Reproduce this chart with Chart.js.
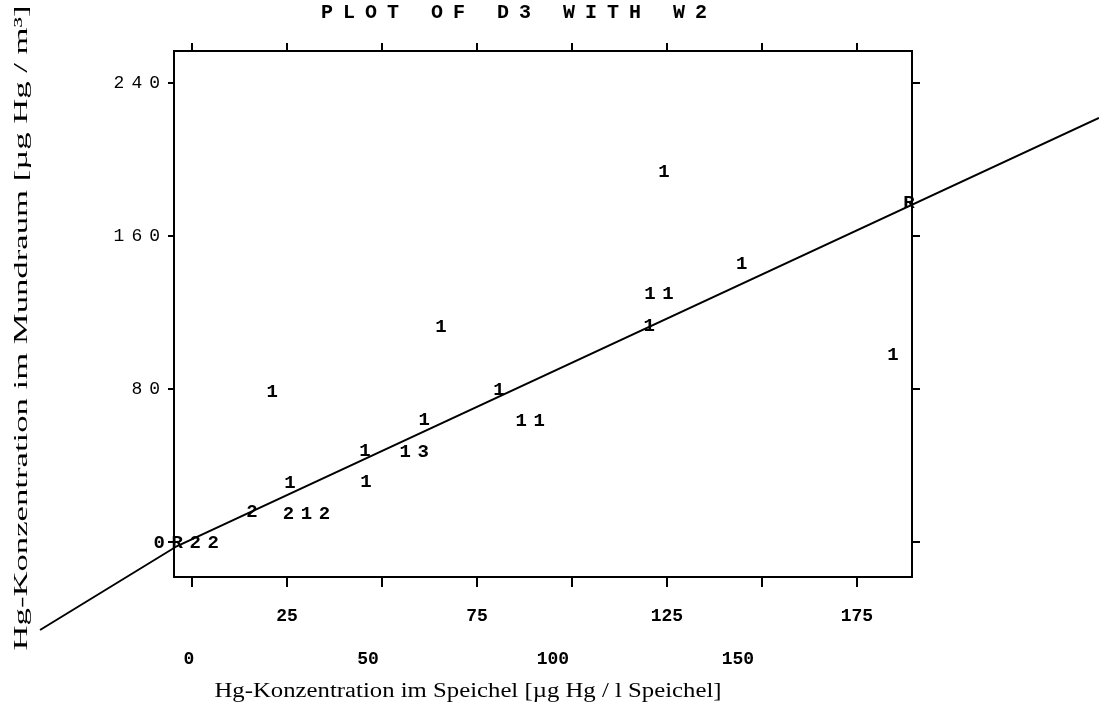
<!DOCTYPE html>
<html><head><meta charset="utf-8">
<script src="https://cdn.jsdelivr.net/npm/chart.js@4"></script>
<style>html,body{margin:0;padding:0;background:#fff}#wrap{width:1099px;height:706px}</style>
</head><body><div id="wrap"><canvas id="c" width="1099" height="706"></canvas></div>
<script>
const chartTitle = 'PLOT OF D3 WITH W2';
const xTitle = 'Hg-Konzentration im Speichel [µg Hg / l Speichel]';
const yTitle = 'Hg-Konzentration im Mundraum [µg Hg / m³]';
const xTickValues = [0, 25, 50, 75, 100, 125, 150, 175];
const yTickValues = [0, 80, 160, 240];
const yTickLabels = ['', '80', '160', '240'];

// plot symbols (SAS printer-plot counts) and their positions
const symbolText = ['1', '1', '11', '1', '1', 'R', '1', '1', '1', '11', '1', '13', '1', '1', '1', '2', '212', '0R22'];
const symbolX = [124.2, 144.7, 122.9, 120.3, 184.5, 188.7, 65.5, 21.1, 80.8, 89.0, 61.1, 58.5, 45.5, 45.8, 25.8, 15.8, 30.1, -1.5];
const symbolY = [193.5, 145.4, 129.7, 112.9, 97.8, 177.3, 112.4, 78.4, 79.5, 63.3, 63.8, 47.1, 47.6, 31.4, 30.8, 15.7, 14.6, -0.5];

// regression line as traced on the (slightly warped) scan
const fitX = [-40.0, -3.9, 238.7];
const fitY = [-46.0, -2.1, 221.7];

const MONO = "'Liberation Mono', 'DejaVu Sans Mono', monospace";
const SERIF = "'Liberation Serif', 'DejaVu Serif', serif";
// the lower row of x labels is printed slightly left of its ticks
const lowerRowShift = { 0: -3, 50: -14, 100: -19, 150: -24 };

function spaced(scale, ls) {
  if (scale.__sp) return;
  scale.__sp = true;
  const orig = scale.drawLabels;
  scale.drawLabels = function (area) {
    const c = this.ctx; const o = c.letterSpacing;
    c.letterSpacing = ls; orig.call(this, area); c.letterSpacing = o || '0px';
  };
}
function shiftLower(scale) {
  if (scale.__sh) return;
  scale.__sh = true;
  const orig = scale.getLabelItems;
  scale.getLabelItems = function (area) {
    const items = orig.call(this, area);
    if (!items.__shifted) {
      items.forEach((it, i) => {
        const t = this.ticks[i];
        const d = t ? lowerRowShift[t.value] : 0;
        if (d && it.options && it.options.translation) it.options.translation[0] += d;
      });
      items.__shifted = true;
    }
    return items;
  };
}

const decor = {
  id: 'decor',
  afterDatasetsDraw(chart) {
    const ctx = chart.ctx;
    const meta = chart.getDatasetMeta(0);
    ctx.save();
    ctx.fillStyle = '#000';
    ctx.font = "bold 19px " + MONO;
    ctx.textBaseline = 'middle';
    ctx.textAlign = 'center';
    const ls = 6.6;
    ctx.letterSpacing = ls + 'px';
    meta.data.forEach((pt, i) => {
      ctx.fillText(symbolText[i], pt.x + ls / 2, pt.y);
    });
    ctx.restore();
  },
  afterDraw(chart) {
    const ctx = chart.ctx;
    ctx.save();
    ctx.fillStyle = '#000';
    // title
    ctx.font = "bold 20px " + MONO;
    ctx.textBaseline = 'middle';
    ctx.textAlign = 'left';
    ctx.letterSpacing = '10px';
    ctx.fillText(chartTitle, 321, 13);
    ctx.letterSpacing = '0px';
    // x title
    ctx.font = "20px " + SERIF;
    ctx.textAlign = 'center';
    let w = ctx.measureText(xTitle).width;
    ctx.save();
    ctx.translate(468, 692);
    ctx.scale(507 / w, 1);
    ctx.fillText(xTitle, 0, 0);
    ctx.restore();
    // y title
    ctx.font = "19px " + SERIF;
    w = ctx.measureText(yTitle).width;
    ctx.save();
    ctx.translate(22, 328);
    ctx.rotate(-Math.PI / 2);
    ctx.scale(645 / w, 1);
    ctx.fillText(yTitle, 0, 0);
    ctx.restore();
    ctx.restore();
  }
};

const xMin = -4.74, xMax = 189.5, yMin = -18.3, yMax = 256.7;
const gridBase = { display: true, drawOnChartArea: false, drawTicks: true, color: '#000', lineWidth: 2 };
const borderBase = { display: true, color: '#000', width: 2 };

new Chart(document.getElementById('c'), {
  data: {
    datasets: [
      {
        type: 'scatter',
        label: 'D3 mit W2',
        data: symbolX.map((x, i) => ({ x: x, y: symbolY[i] })),
        pointRadius: 0,
        showLine: false,
        xAxisID: 'x', yAxisID: 'y',
        clip: false
      },
      {
        type: 'line',
        label: 'Regression',
        data: fitX.map((x, i) => ({ x: x, y: fitY[i] })),
        borderColor: '#000',
        borderWidth: 2,
        pointRadius: 0,
        fill: false,
        tension: 0,
        xAxisID: 'x', yAxisID: 'y',
        clip: false
      }
    ]
  },
  options: {
    responsive: false,
    animation: false,
    devicePixelRatio: 1,
    layout: { padding: 0 },
    plugins: { legend: { display: false }, title: { display: false }, tooltip: { enabled: false } },
    scales: {
      x: {
        type: 'linear', position: 'bottom', min: xMin, max: xMax,
        afterBuildTicks: s => { s.ticks = xTickValues.map(v => ({ value: v })); },
        grid: Object.assign({}, gridBase, { tickLength: 10 }),
        border: borderBase,
        ticks: {
          color: '#000', autoSkip: false, maxRotation: 0, minRotation: 0, padding: 8,
          font: { family: MONO, size: 18, weight: 'bold', lineHeight: 2.4 },
          callback: v => (v % 50 === 0 ? ['', String(v)] : [String(v), ''])
        },
        afterFit: s => { s.height = 129; shiftLower(s); }
      },
      x2: {
        type: 'linear', position: 'top', min: xMin, max: xMax,
        afterBuildTicks: s => { s.ticks = xTickValues.map(v => ({ value: v })); },
        grid: Object.assign({}, gridBase, { tickLength: 8 }),
        border: borderBase,
        ticks: { display: false },
        afterFit: s => { s.height = 51; }
      },
      y: {
        type: 'linear', position: 'left', min: yMin, max: yMax,
        afterBuildTicks: s => { s.ticks = yTickValues.map(v => ({ value: v })); },
        grid: Object.assign({}, gridBase, { tickLength: 6 }),
        border: borderBase,
        ticks: {
          color: '#000', padding: 1,
          font: { family: MONO, size: 18 },
          callback: (v, i) => yTickLabels[i]
        },
        afterFit: s => { s.width = 174; spaced(s, '7px'); }
      },
      y2: {
        type: 'linear', position: 'right', min: yMin, max: yMax,
        afterBuildTicks: s => { s.ticks = yTickValues.map(v => ({ value: v })); },
        grid: Object.assign({}, gridBase, { tickLength: 8 }),
        border: borderBase,
        ticks: { display: false },
        afterFit: s => { s.width = 187; }
      }
    }
  },
  plugins: [decor]
});
</script>
</body></html>
